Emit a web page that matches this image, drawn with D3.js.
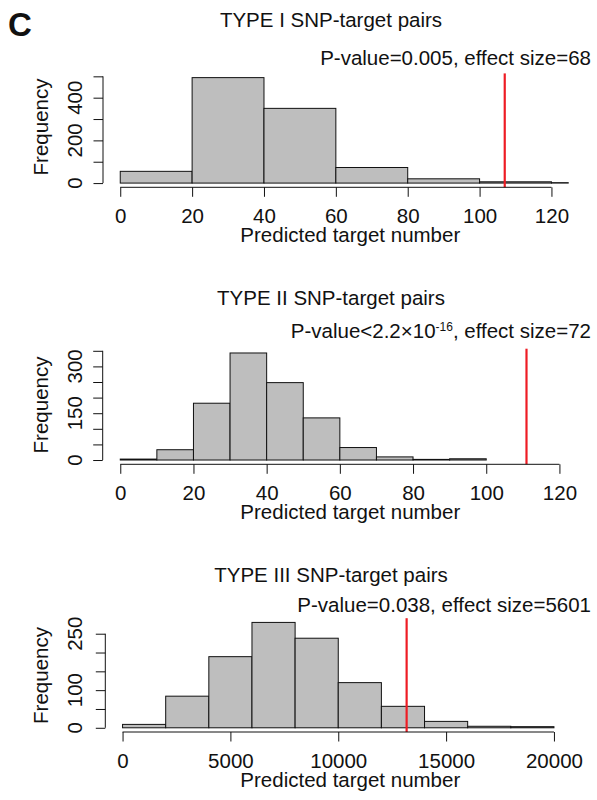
<!DOCTYPE html>
<html>
<head>
<meta charset="utf-8">
<script src="https://cdn.jsdelivr.net/npm/d3@7"></script>
<style>
  body { margin: 0; background: #fff; }
  svg { display: block; font-family: "Liberation Sans", Arial, sans-serif; }
  text { fill: #111; }
</style>
</head>
<body>
<svg class="chart" width="597" height="800"></svg>
<script>
"use strict";

let titles = ["TYPE I SNP-target pairs", "TYPE II SNP-target pairs", "TYPE III SNP-target pairs"];

// histogram bins (break points) and counts
let breaks1 = [0, 20, 40, 60, 80, 100, 120, 140];
let counts1 = [55, 494, 350, 73, 20, 6, 2];

let breaks2 = [0, 10, 20, 30, 40, 50, 60, 70, 80, 90, 100];
let counts2 = [3, 33, 182, 343, 248, 135, 40, 10, 2, 4];

let breaks3 = [0, 2000, 4000, 6000, 8000, 10000, 12000, 14000, 16000, 18000, 20000];
let counts3 = [9, 84, 189, 280, 238, 120, 57, 17, 4, 3];

// observed value (red line)
let observed = [107, 111, 13170];

let xTicks1 = [0, 20, 40, 60, 80, 100, 120];
let xTicks2 = [0, 20, 40, 60, 80, 100, 120];
let xTicks3 = [0, 5000, 10000, 15000, 20000];

let yTicks1 = [0, 100, 200, 300, 400, 500];
let yLabels1 = [0, 200, 400];
let yTicks2 = [0, 50, 100, 150, 200, 250, 300, 350];
let yLabels2 = [0, 150, 300];
let yTicks3 = [0, 50, 100, 150, 200, 250];
let yLabels3 = [0, 100, 250];

let pTexts = [
  [{t: "P-value=0.005, effect size=68"}],
  [{t: "P-value<2.2×10"}, {t: "-16", sup: true}, {t: ", effect size=72"}],
  [{t: "P-value=0.038, effect size=5601"}]
];

let svg = d3.select('.chart');

let fontSize = 20.5;
let ink = '#111';

let panels = [
  {breaks: breaks1, counts: counts1, xlim: [0, 120], xTicks: xTicks1, yTicks: yTicks1, yLabels: yLabels1,
   left: 103, right: 568.7, top: 73.4, bottom: 187.3, titleY: 27, pY: 65, ylabY: 127},
  {breaks: breaks2, counts: counts2, xlim: [0, 120], xTicks: xTicks2, yTicks: yTicks2, yLabels: yLabels2,
   left: 102.7, right: 577, top: 348.7, bottom: 464.3, titleY: 305, pY: 338.3, ylabY: 405},
  {breaks: breaks3, counts: counts3, xlim: [0, 20000], xTicks: xTicks3, yTicks: yTicks3, yLabels: yLabels3,
   left: 105.3, right: 571.2, top: 618.2, bottom: 732, titleY: 581.7, pY: 611.7, ylabY: 675.5}
];

svg.append('rect').attr('width', 597).attr('height', 800).attr('fill', '#fff');

svg.append('text')
  .attr('x', 8)
  .attr('y', 36)
  .attr('font-size', 33)
  .attr('font-weight', 'bold')
  .text('C');

panels.forEach((p, i) => {
  let xr = p.xlim[1] - p.xlim[0];
  let x = d3.scaleLinear()
    .domain([p.xlim[0] - 0.04 * xr, p.xlim[1] + 0.04 * xr])
    .range([p.left, p.right]);
  let ymax = d3.max(p.counts);
  let y = d3.scaleLinear()
    .domain([-0.04 * ymax, 1.04 * ymax])
    .range([p.bottom, p.top]);

  let g = svg.append('g').attr('class', 'panel');

  let clipId = 'clip' + i;
  g.append('clipPath')
    .attr('id', clipId)
    .append('rect')
    .attr('x', p.left)
    .attr('y', p.top)
    .attr('width', p.right - p.left)
    .attr('height', p.bottom - p.top);

  let bins = p.counts.map((c, j) => ({x0: p.breaks[j], x1: p.breaks[j + 1], n: c}));

  g.append('g')
    .attr('clip-path', 'url(#' + clipId + ')')
    .selectAll('.bar')
    .data(bins)
    .enter()
    .append('rect')
    .attr('class', 'bar')
    .attr('x', d => x(d.x0))
    .attr('width', d => x(d.x1) - x(d.x0))
    .attr('y', d => y(d.n))
    .attr('height', d => y(0) - y(d.n))
    .attr('fill', '#bebebe')
    .attr('stroke', ink)
    .attr('stroke-width', 1);

  // observed value
  g.append('line')
    .attr('x1', x(observed[i]))
    .attr('x2', x(observed[i]))
    .attr('y1', p.top)
    .attr('y2', p.bottom)
    .attr('stroke', '#ee1c24')
    .attr('stroke-width', 2.2);

  // x axis, line only between first and last tick like R
  let xAxis = g.append('g')
    .attr('transform', 'translate(0,' + p.bottom + ')')
    .call(d3.axisBottom(x)
      .tickValues(p.xTicks)
      .tickFormat(d3.format('d'))
      .tickSize(9.5)
      .tickSizeOuter(0)
      .tickPadding(11.5));
  xAxis.select('.domain').remove();
  xAxis.append('line')
    .attr('x1', x(p.xTicks[0]))
    .attr('x2', x(p.xTicks[p.xTicks.length - 1]))
    .attr('stroke', ink);
  xAxis.selectAll('.tick line').attr('stroke', ink);
  xAxis.selectAll('text')
    .attr('font-size', fontSize)
    .attr('font-family', '"Liberation Sans", Arial, sans-serif')
    .attr('fill', ink);

  // y axis: ticks from d3, rotated labels drawn by hand
  let yAxis = g.append('g')
    .attr('transform', 'translate(' + p.left + ',0)')
    .call(d3.axisLeft(y)
      .tickValues(p.yTicks)
      .tickFormat('')
      .tickSize(9.5)
      .tickSizeOuter(0));
  yAxis.select('.domain').remove();
  yAxis.selectAll('.tick text').remove();
  yAxis.append('line')
    .attr('y1', y(p.yTicks[0]))
    .attr('y2', y(p.yTicks[p.yTicks.length - 1]))
    .attr('stroke', ink);
  yAxis.selectAll('.tick line').attr('stroke', ink);

  g.selectAll('.ylab')
    .data(p.yLabels)
    .enter()
    .append('text')
    .attr('class', 'ylab')
    .attr('transform', d => 'translate(81.5,' + y(d) + ') rotate(-90)')
    .attr('text-anchor', 'middle')
    .attr('font-size', fontSize)
    .text(d => d);

  // titles and labels
  g.append('text')
    .attr('x', 331)
    .attr('y', p.titleY)
    .attr('text-anchor', 'middle')
    .attr('font-size', fontSize)
    .text(titles[i]);

  let pt = g.append('text')
    .attr('x', 591)
    .attr('y', p.pY)
    .attr('text-anchor', 'end')
    .attr('font-size', fontSize);
  pTexts[i].forEach((s, k) => {
    let ts = pt.append('tspan').text(s.t);
    if (s.sup) ts.attr('font-size', 12).attr('dy', -7);
    else if (k > 0) ts.attr('dy', 7);
  });

  g.append('text')
    .attr('x', 350.3)
    .attr('y', p.bottom + 54.5)
    .attr('text-anchor', 'middle')
    .attr('font-size', fontSize)
    .text('Predicted target number');

  g.append('text')
    .attr('transform', 'translate(47.5,' + p.ylabY + ') rotate(-90)')
    .attr('text-anchor', 'middle')
    .attr('font-size', fontSize)
    .text('Frequency');
});
</script>
</body>
</html>
